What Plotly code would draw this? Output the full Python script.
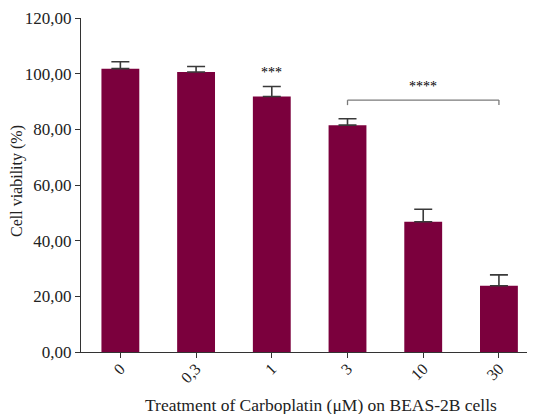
import plotly.graph_objects as go

# Data
concentrations = ["0", "0,3", "1", "3", "10", "30"]
viability = [101.8, 100.6, 91.8, 81.5, 46.8, 23.8]
sem = [2.5, 2.0, 3.6, 2.3, 4.5, 3.9]

y_tickvals = [0, 20, 40, 60, 80, 100, 120]
y_ticktext = ["0,00", "20,00", "40,00", "60,00", "80,00", "100,00", "120,00"]

x_title = "Treatment of Carboplatin (μM) on BEAS-2B cells"
y_title = "Cell viability (%)"

sig_single_label = "***"
sig_single_index = 2
sig_single_y = 100.3

bracket_start = 3
bracket_end = 5
bracket_y = 90.5
bracket_drop = 1.8
bracket_label = "****"
bracket_label_y = 95.5

BAR = "#7b003d"
FONT = "Liberation Serif"

fig = go.Figure()
fig.add_trace(go.Bar(
    x=list(range(len(concentrations))),
    y=viability,
    width=0.5,
    marker=dict(color=BAR, line=dict(width=0)),
    error_y=dict(type="data", symmetric=False, array=sem,
                 arrayminus=[0] * len(sem), color="#3a3a3a",
                 thickness=1.6, width=9),
    showlegend=False,
))

# bracket
for (x0, x1, y0, y1) in [
    (bracket_start, bracket_end, bracket_y, bracket_y),
    (bracket_start, bracket_start, bracket_y, bracket_y - bracket_drop),
    (bracket_end, bracket_end, bracket_y, bracket_y - bracket_drop),
]:
    fig.add_shape(type="line", x0=x0, x1=x1, y0=y0, y1=y1,
                  line=dict(color="#7a7a7a", width=1.3), xref="x", yref="y")

fig.add_annotation(x=sig_single_index, y=sig_single_y, text=sig_single_label, showarrow=False,
                   font=dict(family=FONT, size=14, color="#000000"))
fig.add_annotation(x=(bracket_start + bracket_end) / 2, y=bracket_label_y, text=bracket_label,
                   showarrow=False, font=dict(family=FONT, size=14, color="#000000"))

# axis titles
fig.add_annotation(xref="paper", yref="paper", x=0.532, y=0, yshift=-53, text=x_title,
                   showarrow=False, xanchor="center", yanchor="middle",
                   font=dict(family=FONT, size=17.5, color="#222222"))
fig.add_annotation(xref="paper", yref="paper", x=0, y=0.512, xshift=-64, text=y_title,
                   showarrow=False, textangle=-90, xanchor="center", yanchor="middle",
                   font=dict(family=FONT, size=16, color="#222222"))

# page body has an 8px margin: compensate so the plot area lands where the reference has it
fig.update_layout(
    width=527, height=406,
    margin=dict(l=73, r=2, t=10, b=62),
    paper_bgcolor="white", plot_bgcolor="white",
    font=dict(family=FONT, size=17, color="#222222"),
    xaxis=dict(
        tickmode="array", tickvals=list(range(len(concentrations))), ticktext=concentrations,
        tickangle=-45, range=[-0.52, 5.45], automargin=False,
        showline=True, linecolor="#333333", linewidth=1.3,
        ticks="outside", ticklen=5, tickcolor="#333333", tickwidth=1.3,
        ticklabelstandoff=-5,
        showgrid=False, zeroline=False,
        tickfont=dict(family=FONT, size=16),
    ),
    yaxis=dict(
        range=[0, 120], tickmode="array", tickvals=y_tickvals, ticktext=y_ticktext,
        automargin=False,
        showline=True, linecolor="#333333", linewidth=1.3,
        ticks="outside", ticklen=5, tickcolor="#333333", tickwidth=1.3,
        showgrid=False, zeroline=False,
        tickfont=dict(family=FONT, size=17),
    ),
)

fig.write_html("out.html")
